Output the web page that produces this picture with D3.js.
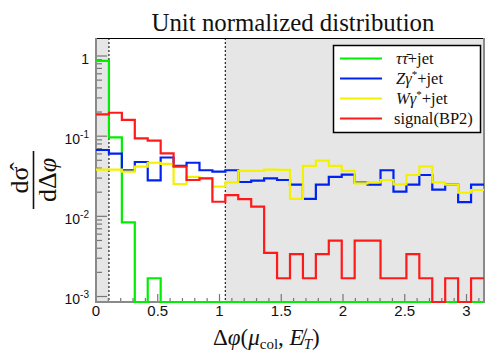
<!DOCTYPE html>
<html>
<head>
<meta charset="utf-8">
<style>
body { margin:0; background:#fff; }
</style>
</head>
<body>
<div id="chart"></div>
<script src="https://d3js.org/d3.v7.min.js" charset="utf-8"></script>
<script>

// 30 bins in delta phi from 0 to pi
var nBins = 30;
var xTicks = [0, 0.5, 1, 1.5, 2, 2.5, 3];
var yTicks = [1, 0.1, 0.01, 0.001];
var yTickLabels = [["1", ""], ["10", "-1"], ["10", "-2"], ["10", "-3"]];
var cutLow = Math.PI / 30;
var cutHigh = Math.PI / 3;

var seriesNames = ["\u03c4\u03c4\u0304+jet", "Z\u03b3*+jet", "W\u03b3*+jet", "signal(BP2)"];
var seriesColors = ["#00ee00", "#0022ee", "#f2f200", "#ff1a1a"];

var tautauJet = [0.87, 0.0965, 0.0084, 0, 0.00169, 0, 0, 0, 0, 0,
                 0, 0, 0, 0, 0, 0, 0, 0, 0, 0,
                 0, 0, 0, 0, 0, 0, 0, 0, 0, 0];
var zGammaJet = [0.0672, 0.0604, 0.0376, 0.0476, 0.0281, 0.0542, 0.0425, 0.0466, 0.0376, 0.0362,
                 0.0376, 0.0268, 0.0279, 0.0298, 0.0284, 0.0248, 0.0165, 0.0248, 0.031, 0.0331,
                 0.0263, 0.0248, 0.0376, 0.0203, 0.0248, 0.0328, 0.0215, 0.0248, 0.0150, 0.0248];
var wGammaJet = [0.0383, 0.0383, 0.0362, 0.0418, 0.0466, 0.0450, 0.0253, 0.031, 0.0300, 0.0235,
                 0.0266, 0.0368, 0.0368, 0.0383, 0.038, 0.0165, 0.0427, 0.0494, 0.0427, 0.0368,
                 0.0257, 0.0266, 0.0284, 0.0250, 0.0328, 0.0421, 0.0266, 0.0248, 0.0197, 0.0213];
var signalBP2 = [0.187, 0.196, 0.16, 0.094, 0.088, 0.0611, 0.0418, 0.0284, 0.0298, 0.0152,
                 0.0184, 0.0164, 0.0132, 0.0035, 0.00169, 0.00337, 0.00169, 0.00337, 0.00499, 0.00169,
                 0.00499, 0.00499, 0.00169, 0.00169, 0.00337, 0.00169, 0, 0.00169, 0, 0.00169];

var allSeries = [tautauJet, zGammaJet, wGammaJet, signalBP2];

var W = 498, H = 356;
// frame edges (note: "top" is taken by window.top, so use prefixed names)
var fL = 96, fR = 484, fT = 38, fB = 302;
var yMin = 0.000854, yMax = 1.677;

var svg = d3.select("#chart").append("svg")
    .attr("width", W)
    .attr("height", H);

var x = d3.scaleLinear().domain([0, Math.PI]).range([fL, fR]);
var y = d3.scaleLog().domain([yMin, yMax]).range([fB, fT]);

// shaded regions outside the cuts
var bandColor = "#e6e6e6";
svg.append("rect").attr("x", x(0)).attr("y", fT)
   .attr("width", x(cutLow) - x(0)).attr("height", fB - fT).style("fill", bandColor);
svg.append("rect").attr("x", x(cutHigh)).attr("y", fT)
   .attr("width", x(Math.PI) - x(cutHigh)).attr("height", fB - fT).style("fill", bandColor);

// dashed cut lines
[cutLow, cutHigh].forEach(function(c) {
  svg.append("line")
     .attr("x1", x(c)).attr("x2", x(c))
     .attr("y1", fT).attr("y2", fB)
     .style("stroke", "#222").style("stroke-width", 1.2)
     .style("stroke-dasharray", "2,2");
});

// x ticks: major every 0.5, minor every 0.1
var tickColor = "#777";
d3.range(0, 32).forEach(function(i) {
  var v = i / 10;
  var major = (i % 5 === 0);
  svg.append("line")
     .attr("x1", x(v)).attr("x2", x(v))
     .attr("y1", fB).attr("y2", fB - (major ? 8 : 4))
     .style("stroke", tickColor).style("stroke-width", 1.2);
});
svg.selectAll(".xlab").data(xTicks).enter().append("text")
   .attr("x", function(d) { return x(d); })
   .attr("y", 316)
   .style("font-family", "Liberation Sans, Arial, sans-serif")
   .style("font-size", "15px")
   .style("text-anchor", "middle")
   .style("fill", "#111")
   .text(function(d) { return d; });

// y ticks: decades and minor
yTicks.forEach(function(dec) {
  d3.range(1, 10).forEach(function(m) {
    var v = dec * m;
    if (v > yMax || v < yMin) return;
    svg.append("line")
       .attr("x1", fL).attr("x2", fL + (m === 1 ? 11 : 6))
       .attr("y1", y(v)).attr("y2", y(v))
       .style("stroke", tickColor).style("stroke-width", 1.2);
  });
});
var ylab = svg.selectAll(".ylab").data(yTicks).enter().append("text")
   .attr("x", 89)
   .attr("y", function(d) { return y(d) + 7.5; })
   .style("font-family", "Liberation Sans, Arial, sans-serif")
   .style("font-size", "14px")
   .style("text-anchor", "end")
   .style("fill", "#111");
ylab.append("tspan").text(function(d, i) { return yTickLabels[i][0]; });
ylab.append("tspan")
   .attr("dy", -6)
   .style("font-size", "10px")
   .text(function(d, i) { return yTickLabels[i][1]; });

// histograms as step outlines
var edges = d3.range(0, nBins + 1).map(function(i) { return i * Math.PI / nBins; });
var step = d3.line()
   .x(function(d) { return x(d[0]); })
   .y(function(d) { return y(Math.max(d[1], yMin)); })
   .curve(d3.curveStepAfter);

// frame
var axisColor = "#8a8a8a";
svg.append("line").attr("x1", fL).attr("x2", fR).attr("y1", fT + 0.5).attr("y2", fT + 0.5)
   .style("stroke", "#000").style("stroke-width", 1);
svg.append("line").attr("x1", fR).attr("x2", fR).attr("y1", fT).attr("y2", fB)
   .style("stroke", axisColor).style("stroke-width", 2);
svg.append("line").attr("x1", fL).attr("x2", fL).attr("y1", fT).attr("y2", fB + 1)
   .style("stroke", axisColor).style("stroke-width", 2);
svg.append("line").attr("x1", fL).attr("x2", fR + 1).attr("y1", fB).attr("y2", fB)
   .style("stroke", axisColor).style("stroke-width", 2);

allSeries.forEach(function(vals, s) {
  var pts = vals.map(function(v, i) { return [edges[i], v]; });
  pts.push([edges[nBins], vals[nBins - 1]]);
  svg.append("path")
     .attr("d", step(pts))
     .style("fill", "none")
     .style("stroke", seriesColors[s])
     .style("stroke-width", 2.2);
});

// legend
var lg = svg.append("g");
lg.append("rect")
  .attr("x", 333.5).attr("y", 45.5)
  .attr("width", 147).attr("height", 87)
  .style("fill", "#fff").style("stroke", "#000").style("stroke-width", 1.5);
var serif = "Liberation Serif, 'Times New Roman', serif";
seriesNames.forEach(function(name, i) {
  var ly = 58.5 + i * 20;
  lg.append("line")
    .attr("x1", 340).attr("x2", 382)
    .attr("y1", ly).attr("y2", ly)
    .style("stroke", seriesColors[i]).style("stroke-width", 2.2);
  var t = lg.append("text")
    .attr("x", i === 3 ? 394 : 396)
    .attr("y", ly + 5)
    .style("font-family", serif)
    .style("font-size", "16.5px")
    .style("fill", "#111");
  if (i === 3) {
    t.text(name);
  } else {
    t.append("tspan").style("font-style", "italic").text(i === 0 ? "\u03c4\u03c4\u0304" : name.charAt(0) + "\u03b3");
    t.append("tspan").attr("dy", -6).style("font-size", "11px").text(i === 0 ? "" : "*");
    t.append("tspan").attr("dy", i === 0 ? 0 : 6).text("+jet");
  }
});

// title, scaled to fit the space it takes in the original
var title = svg.append("text")
   .text("Unit normalized distribution")
   .style("font-family", serif)
   .style("font-size", "21px")
   .style("fill", "#111")
   .attr("x", 151.5)
   .attr("y", 30.5);
var tw = title.node().getComputedTextLength();
title.style("font-size", (21 * 283 / tw) + "px");

// x axis label
var xl = svg.append("text")
   .attr("x", 213)
   .attr("y", 345)
   .style("font-family", serif)
   .style("font-size", "23px")
   .style("fill", "#111");
xl.append("tspan").text("\u0394");
xl.append("tspan").style("font-style", "italic").text("\u03c6");
xl.append("tspan").text("(");
xl.append("tspan").style("font-style", "italic").text("\u03bc");
xl.append("tspan").attr("dy", 4).style("font-size", "15px").text("col");
xl.append("tspan").attr("dy", -4).text(", ");
xl.append("tspan").style("font-style", "italic").text("E\u0338");
xl.append("tspan").attr("dy", 4).style("font-size", "15px").style("font-style", "italic").text("T");
xl.append("tspan").attr("dy", -4).text(")");

// y axis label: fraction d sigma-hat over d delta-phi
var yl = svg.append("g").attr("transform", "translate(33,180) rotate(-90)");
yl.append("line")
  .attr("x1", -29).attr("x2", 29).attr("y1", 0.5).attr("y2", 0.5)
  .style("stroke", "#111").style("stroke-width", 1.6);
yl.append("text")
  .attr("x", 0).attr("y", -5)
  .style("font-family", serif).style("font-size", "26px")
  .style("text-anchor", "middle").style("fill", "#111")
  .text("d\u03c3\u0302");
var den = yl.append("text")
  .attr("x", 0).attr("y", 23)
  .style("font-family", serif).style("font-size", "26px")
  .style("text-anchor", "middle").style("fill", "#111");
den.append("tspan").text("d\u0394");
den.append("tspan").style("font-style", "italic").text("\u03c6");

</script>
</body>
</html>
